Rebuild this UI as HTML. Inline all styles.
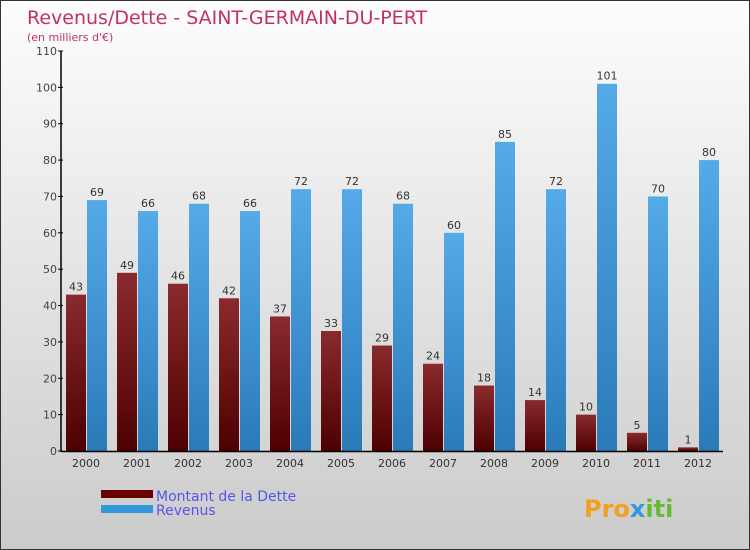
<!DOCTYPE html>
<html><head><meta charset="utf-8">
<style>
body{margin:0}
#wrap{position:relative;width:750px;height:550px;background:linear-gradient(#fdfdfd,#cbcbcb);border:1px solid #333;box-sizing:border-box;overflow:hidden;font-family:"DejaVu Sans","Liberation Sans",sans-serif}
</style></head><body>
<div id="wrap">
<svg id="svg" width="750" height="550" style="position:absolute;left:0;top:0">
<defs>
<linearGradient id="gd" x1="0" y1="0" x2="0" y2="1"><stop offset="0" stop-color="#8a2a2e"/><stop offset="1" stop-color="#4e0000"/></linearGradient>
<linearGradient id="gr" x1="0" y1="0" x2="0" y2="1"><stop offset="0" stop-color="#55aae8"/><stop offset="1" stop-color="#2a7ab8"/></linearGradient>
</defs>
<text x="26" y="23" font-size="19" fill="#c0306a">Revenus/Dette - SAINT-GERMAIN-DU-PERT</text>
<text x="26" y="40" font-size="11" fill="#c0306a">(en milliers d'€)</text>
<g id="plot"></g>
<rect x="100" y="489" width="52" height="8" fill="#6a0000"/>
<rect x="100" y="504" width="52" height="8" fill="#3399dd"/>
<text x="155" y="500" font-size="14" fill="#5555ee">Montant de la Dette</text>
<text x="155" y="514" font-size="14" fill="#5555ee">Revenus</text>
<text x="583" y="516" font-size="24" font-weight="bold" fill="#f0a020">Pro<tspan fill="#3399dd">x</tspan><tspan fill="#66bb33">iti</tspan></text>
</svg>
</div>
<script>
const years=["2000","2001","2002","2003","2004","2005","2006","2007","2008","2009","2010","2011","2012"];
const dette=[43,49,46,42,37,33,29,24,18,14,10,5,1];
const revenus=[69,66,68,66,72,72,68,60,85,72,101,70,80];
const yTicks=[0,10,20,30,40,50,60,70,80,90,100,110];
const NS="http://www.w3.org/2000/svg";
const g=document.getElementById('plot');
const y=v=>450-v*(400/110);
const xc=i=>85+i*51;
function mk(t,a){const e=document.createElementNS(NS,t);for(const k in a)e.setAttribute(k,a[k]);g.appendChild(e);return e;}
yTicks.forEach(t=>{
 const l=mk('line',{x1:57,x2:62,y1:y(t),y2:y(t),stroke:'#000'});
 
 
 const tx=mk('text',{x:56,y:y(t)+4,'font-size':11,'text-anchor':'end',fill:'#444'});tx.textContent=t;
 
 
});
years.forEach((yr,i)=>{
 const c=xc(i);
 const b1=mk('rect',{x:c-20,y:y(dette[i]),width:20,height:450-y(dette[i]),fill:'url(#gd)'});
 
 
 const b2=mk('rect',{x:c+1,y:y(revenus[i]),width:20,height:450-y(revenus[i]),fill:'url(#gr)'});
 
 
 const t1=mk('text',{x:c-10,y:y(dette[i])-4,'font-size':11,'text-anchor':'middle',fill:'#333'});t1.textContent=dette[i];
 
 
 const t2=mk('text',{x:c+11,y:y(revenus[i])-4,'font-size':11,'text-anchor':'middle',fill:'#333'});t2.textContent=revenus[i];
 
 
 const xl=mk('text',{x:c,y:466,'font-size':11,'text-anchor':'middle',fill:'#333'});xl.textContent=yr;
 
 
});
const ax=mk('line',{x1:60,x2:60,y1:50,y2:451,stroke:'#000','stroke-width':1.5});


const bx=mk('line',{x1:60,x2:722,y1:450.5,y2:450.5,stroke:'#000','stroke-width':1.5});


</script>
</body></html>
